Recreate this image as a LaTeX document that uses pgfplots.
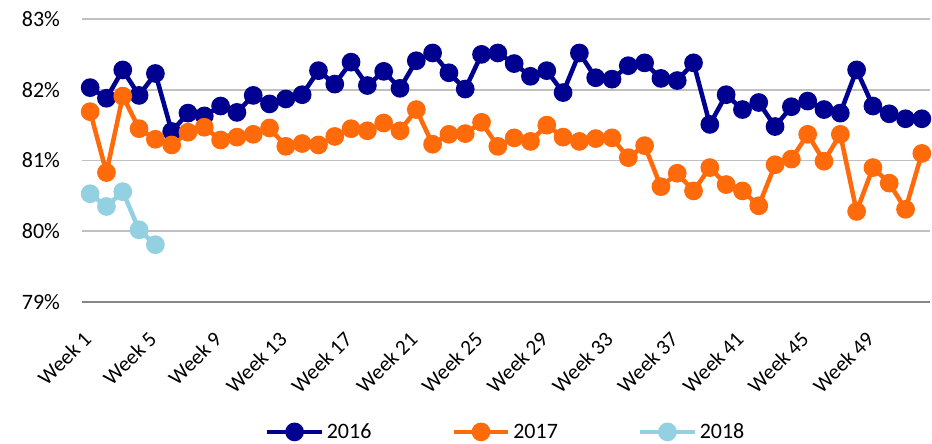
\documentclass[border=0pt]{standalone}
\usepackage{pgfplots}
\pgfplotsset{compat=1.18}
\usepackage{fontspec}
\setmainfont{Carlito}
\definecolor{c16}{HTML}{000090}
\definecolor{c17}{HTML}{FF6A0A}
\definecolor{c18}{HTML}{92D0E2}
\definecolor{gridc}{HTML}{C0C0C0}
\begin{document}
\begin{tikzpicture}
\begin{axis}[
  at={(0,0)}, anchor=south west,
  scale only axis, width=636pt, height=212.25pt,
  xmin=0.5, xmax=52.5, ymin=79, ymax=83,
  ytick={79,80,81,82,83},
  yticklabel={\pgfmathprintnumber[assume math mode=true]{\tick}\%},
  xtick={1,5,9,13,17,21,25,29,33,37,41,45,49},
  xticklabels={Week 1,Week 5,Week 9,Week 13,Week 17,Week 21,Week 25,Week 29,Week 33,Week 37,Week 41,Week 45,Week 49},
  xticklabel style={rotate=45, anchor=north east, font=\fontsize{16}{18}\selectfont, xshift=-15.8pt, yshift=-7.2pt},
  yticklabel style={font=\fontsize{16.5}{18}\selectfont, xshift=-13pt},
  ymajorgrids, xmajorgrids=false, grid style={gridc, line width=1.2pt},
  axis line style={draw=none},
  major tick length=0pt,
  every axis plot/.append style={line width=3.4pt, mark=*, mark size=5.3pt},
  legend style={at={(0.5,-0.459)}, anchor=center, draw=none, legend columns=3,
    font=\fontsize{16.5}{18}\selectfont, /tikz/every even column/.append style={column sep=58pt}},
  legend image code/.code={\draw[mark repeat=2,mark phase=2,#1] plot coordinates {(0pt,0pt)(20.5pt,0pt)(41pt,0pt)};},
]
\draw[gridc!70!black, line width=1.4pt] (rel axis cs:0,0) -- (rel axis cs:1,0);
\addplot[color=c16, mark options={fill=c16}] coordinates {
(1,82.03)(2,81.88)(3,82.28)(4,81.92)(5,82.23)(6,81.41)(7,81.67)(8,81.63)(9,81.77)(10,81.68)
(11,81.92)(12,81.80)(13,81.87)(14,81.93)(15,82.27)(16,82.08)(17,82.39)(18,82.06)(19,82.26)(20,82.02)
(21,82.41)(22,82.52)(23,82.24)(24,82.01)(25,82.50)(26,82.52)(27,82.37)(28,82.19)(29,82.27)(30,81.96)
(31,82.52)(32,82.17)(33,82.15)(34,82.34)(35,82.38)(36,82.16)(37,82.13)(38,82.38)(39,81.51)(40,81.93)
(41,81.72)(42,81.82)(43,81.48)(44,81.76)(45,81.84)(46,81.72)(47,81.67)(48,82.28)(49,81.77)(50,81.66)
(51,81.59)(52,81.59)};
\addlegendentry{2016}
\addplot[color=c17, mark options={fill=c17}] coordinates {
(1,81.69)(2,80.83)(3,81.91)(4,81.45)(5,81.30)(6,81.22)(7,81.40)(8,81.47)(9,81.29)(10,81.33)
(11,81.37)(12,81.46)(13,81.20)(14,81.24)(15,81.22)(16,81.34)(17,81.45)(18,81.42)(19,81.53)(20,81.42)
(21,81.72)(22,81.23)(23,81.37)(24,81.38)(25,81.54)(26,81.20)(27,81.32)(28,81.27)(29,81.50)(30,81.33)
(31,81.27)(32,81.31)(33,81.32)(34,81.04)(35,81.21)(36,80.63)(37,80.82)(38,80.57)(39,80.90)(40,80.66)
(41,80.57)(42,80.36)(43,80.94)(44,81.02)(45,81.37)(46,80.99)(47,81.37)(48,80.28)(49,80.90)(50,80.68)
(51,80.31)(52,81.10)};
\addlegendentry{2017}
\addplot[color=c18, mark options={fill=c18}] coordinates {
(1,80.53)(2,80.35)(3,80.56)(4,80.02)(5,79.81)};
\addlegendentry{2018}
\end{axis}
\pgfresetboundingbox
\path (-61.5pt,-105.75pt) rectangle (637.5pt,226.5pt);
\end{tikzpicture}
\end{document}
